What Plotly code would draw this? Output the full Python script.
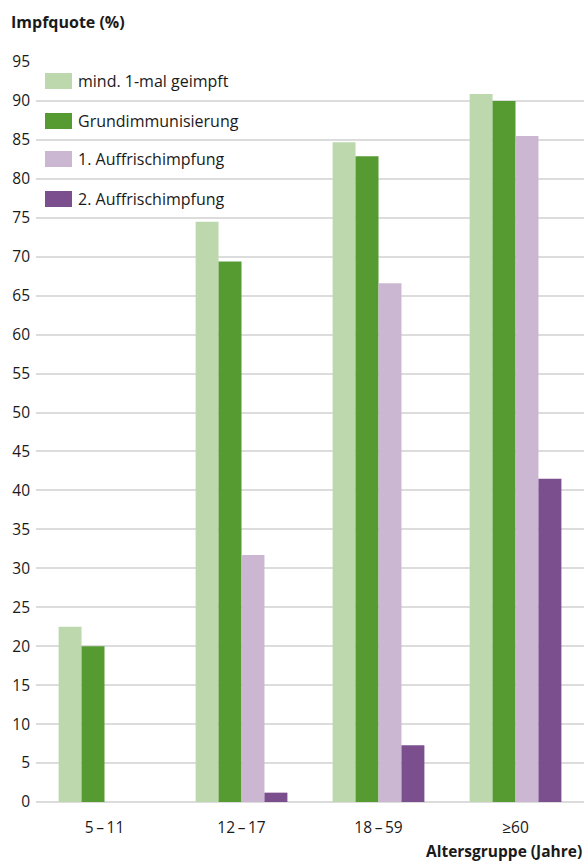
import plotly.graph_objects as go

categories = ["5\u2009–\u200911", "12\u2009–\u200917", "18\u2009–\u200959", "≥60"]
series_names = ["mind. 1-mal geimpft", "Grundimmunisierung", "1. Auffrischimpfung", "2. Auffrischimpfung"]
mind1 = [22.5, 74.5, 84.7, 90.9]
grund = [20.0, 69.4, 82.9, 90.0]
auffr1 = [None, 31.7, 66.6, 85.5]
auffr2 = [None, 1.2, 7.3, 41.5]
colors = ["#bdd8ad", "#569a32", "#cbb7d2", "#7b4f8e"]
y_ticks = list(range(0, 100, 5))

FONT = "Open Sans"
TXT = "#1a1a1a"

fig = go.Figure()
for name, vals, col in zip(series_names, [mind1, grund, auffr1, auffr2], colors):
    fig.add_trace(go.Bar(x=categories, y=vals, name=name, marker=dict(color=col, line=dict(width=0)),
                         showlegend=False))

fig.update_layout(
    width=584, height=861,
    margin=dict(l=36, r=0, t=62, b=59),
    paper_bgcolor="white", plot_bgcolor="white",
    barmode="group", bargap=0.33, bargroupgap=0,
    font=dict(family=FONT, size=15, color=TXT),
    xaxis=dict(showgrid=False, ticks="outside", ticklen=11, tickcolor="rgba(0,0,0,0)",
               tickfont=dict(size=15.5, color=TXT), showline=False),
    yaxis=dict(range=[0, 95], tickvals=y_ticks, showgrid=True, gridcolor="#dcdcdc", gridwidth=2,
               zeroline=True, zerolinecolor="#dcdcdc", zerolinewidth=2,
               ticks="", tickfont=dict(size=15.5, color=TXT), ticklabelstandoff=5),
)

# Axis titles
fig.add_annotation(text="<b>Impfquote (%)</b>", xref="paper", yref="paper", x=-36/548, y=1 + 40/740,
                   xanchor="left", yanchor="middle", showarrow=False, xshift=9,
                   font=dict(size=16, color=TXT, family=FONT))
fig.add_annotation(text="<b>Altersgruppe (Jahre)</b>", xref="paper", yref="paper", x=1, y=-49/740,
                   xanchor="right", yanchor="middle", showarrow=False, xshift=-1, borderpad=0,
                   font=dict(size=15.5, color=TXT, family=FONT))

# Custom legend (swatches + labels), positioned in pixels relative to plot area
row_centers_px = [81, 121, 159, 199]  # from top of page
for name, col, cy in zip(series_names, colors, row_centers_px):
    y0 = 1 - (cy - 62 + 8) / 740
    y1 = 1 - (cy - 62 - 8) / 740
    fig.add_shape(type="rect", xref="paper", yref="paper",
                  x0=(45 - 36) / 548, x1=(72 - 36) / 548, y0=y0, y1=y1,
                  fillcolor=col, line=dict(width=0), layer="above")
    fig.add_annotation(text=name, xref="paper", yref="paper", x=(76 - 36) / 548, y=1 - (cy - 62) / 740,
                       xanchor="left", yanchor="middle", showarrow=False,
                       font=dict(size=16, color=TXT, family=FONT))

fig.write_html("out.html")
